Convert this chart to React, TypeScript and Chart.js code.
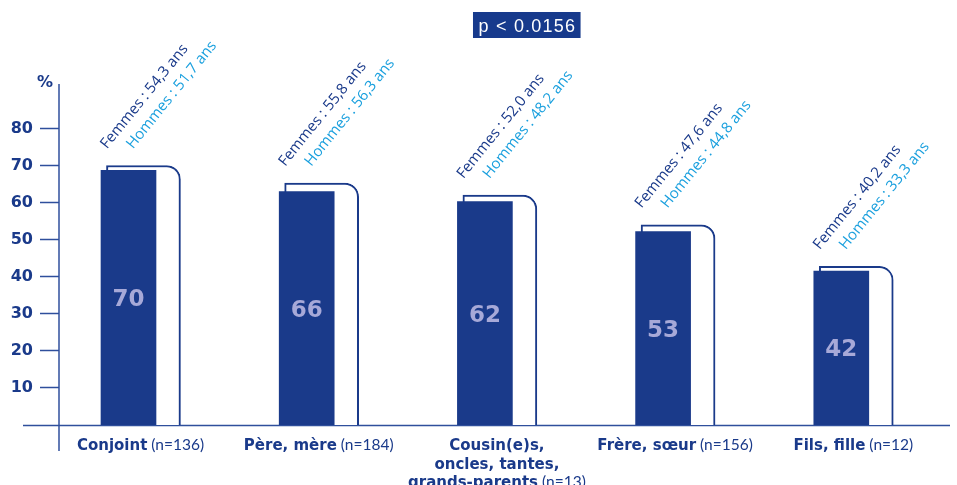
import React, { useEffect, useRef } from "react";
import { Chart, registerables } from "chart.js";

Chart.register(...registerables);

// ---- Data ----
const categoryLines: string[][] = [
  ["Conjoint"],
  ["Père, mère"],
  ["Cousin(e)s,", "oncles, tantes,", "grands-parents"],
  ["Frère, sœur"],
  ["Fils, fille"],
];
const sampleSizes = ["(n=136)", "(n=184)", "(n=13)", "(n=156)", "(n=12)"];
const percentLabels = [70, 66, 62, 53, 42];
const filledValues = [68.7, 63, 60.3, 52.2, 41.5];
const outlineValues = [70, 65.3, 62, 54, 42.8];
const femmesAges = ["54,3", "55,8", "52,0", "47,6", "40,2"];
const hommesAges = ["51,7", "56,3", "48,2", "44,8", "33,3"];
const yTickValues = [10, 20, 30, 40, 50, 60, 70, 80];
const pValueText = "p < 0.0156";

// ---- Styles ----
const NAVY = "#1a3a8a";
const AXIS = "#2f4f9c";
const LIGHT_BLUE = "#1ba0de";
const LAVENDER = "#a7a9d8";
const BOLD_FAMILY = "'DejaVu Sans', sans-serif";
const LIGHT_FAMILY = "Lato, 'Open Sans', sans-serif";
const ROT_FAMILY = "'Open Sans', Lato, sans-serif";

const decorPlugin = {
  id: "decor",
  beforeDatasetsDraw(chart: any) {
    const ctx = chart.ctx as CanvasRenderingContext2D;
    const { left, right, top, bottom } = chart.chartArea;
    ctx.save();
    ctx.strokeStyle = AXIS;
    ctx.lineWidth = 1.5;
    ctx.beginPath();
    ctx.moveTo(left, top);
    ctx.lineTo(left, bottom + 26);
    ctx.stroke();
    ctx.beginPath();
    ctx.moveTo(left - 36, bottom + 0.5);
    ctx.lineTo(right, bottom + 0.5);
    ctx.stroke();
    ctx.restore();
  },
  afterDatasetsDraw(chart: any) {
    const ctx = chart.ctx as CanvasRenderingContext2D;
    const { left, right, top, bottom } = chart.chartArea;
    const xs = chart.scales.x;
    const filledMeta = chart.getDatasetMeta(0);
    const outlineMeta = chart.getDatasetMeta(1);
    ctx.save();

    // "%" unit label
    ctx.fillStyle = NAVY;
    ctx.font = `bold 16px ${BOLD_FAMILY}`;
    ctx.textAlign = "center";
    ctx.textBaseline = "alphabetic";
    ctx.fillText("%", left - 14, top + 3);

    // values inside bars
    ctx.font = `bold 23px ${BOLD_FAMILY}`;
    ctx.fillStyle = LAVENDER;
    filledMeta.data.forEach((el: any, i: number) => {
      const cy = (el.y + el.base) / 2;
      ctx.fillText(String(percentLabels[i]), el.x, cy + 8.4);
    });

    // rotated age annotations
    const deg = 51;
    const angle = (-deg * Math.PI) / 180;
    ctx.textAlign = "left";
    ctx.font = `15px ${ROT_FAMILY}`;
    filledMeta.data.forEach((el: any, i: number) => {
      const outlineTop = outlineMeta.data[i].y;
      const x0 = el.x - el.width / 2 + 6;
      const y0 = outlineTop - 16;
      ctx.save();
      ctx.translate(x0, y0);
      ctx.rotate(angle);
      ctx.fillStyle = NAVY;
      ctx.fillText(`Femmes : ${femmesAges[i]} ans`, 0, 0);
      ctx.fillStyle = LIGHT_BLUE;
      ctx.fillText(`Hommes : ${hommesAges[i]} ans`, 26 * Math.cos(-angle), 26 * Math.sin(-angle));
      ctx.restore();
    });

    // category labels
    ctx.fillStyle = NAVY;
    const boldFont = `bold 15px ${BOLD_FAMILY}`;
    const lightFont = `15.5px ${LIGHT_FAMILY}`;
    categoryLines.forEach((lines, i) => {
      const cx = xs.getPixelForValue(i) + 12;
      lines.forEach((line, j) => {
        const y = bottom + 25 + j * 18.5;
        const suffix = j === lines.length - 1 ? " " + sampleSizes[i] : "";
        ctx.font = boldFont;
        const wb = ctx.measureText(line).width;
        let wn = 0;
        if (suffix) {
          ctx.font = lightFont;
          wn = ctx.measureText(suffix).width;
        }
        const x0 = cx - (wb + wn) / 2;
        ctx.font = boldFont;
        ctx.fillText(line, x0, y);
        if (suffix) {
          ctx.font = lightFont;
          ctx.fillText(suffix, x0 + wb, y);
        }
      });
    });

    // p-value box
    const px = left + (right - left) * 0.525;
    ctx.font = `18px 'Liberation Sans', Arial, sans-serif`;
    (ctx as any).letterSpacing = "1.2px";
    const tw = ctx.measureText(pValueText).width;
    const bw = Math.max(tw + 10, 105);
    ctx.fillStyle = "#173a8c";
    ctx.fillRect(px - bw / 2, 12, bw, 26);
    ctx.fillStyle = "#ffffff";
    ctx.textAlign = "left";
    ctx.fillText(pValueText, px - tw / 2 + 0.6, 32);
    (ctx as any).letterSpacing = "0px";

    ctx.restore();
  },
};

export default function App() {
  const ref = useRef<HTMLCanvasElement>(null);

  useEffect(() => {
    const chart = new Chart(ref.current as HTMLCanvasElement, {
      type: "bar",
      data: {
        datasets: [
          {
            label: "filled",
            data: filledValues.map((v, i) => ({ x: i, y: v })),
            xAxisID: "x",
            yAxisID: "y",
            grouped: false,
            backgroundColor: NAVY,
            borderWidth: 0,
            barThickness: 55,
          } as any,
          {
            label: "outline",
            data: outlineValues.map((v, i) => ({ x: i, y: v })),
            xAxisID: "x2",
            yAxisID: "y",
            grouped: false,
            backgroundColor: "#ffffff",
            borderColor: NAVY,
            borderWidth: 2,
            borderSkipped: "bottom",
            borderRadius: { topLeft: 0, topRight: 14, bottomLeft: 0, bottomRight: 0 },
            barThickness: 74,
          } as any,
        ],
      },
      options: {
        responsive: false,
        devicePixelRatio: 1,
        animation: false,
        layout: { padding: { top: 84, right: 7, bottom: 60, left: 0 } },
        plugins: { legend: { display: false }, tooltip: { enabled: false } },
        scales: {
          x: {
            type: "linear",
            axis: "x",
            position: "bottom",
            display: false,
            min: -0.39,
            max: 4.61,
            offset: false,
          } as any,
          x2: {
            type: "linear",
            axis: "x",
            position: "bottom",
            display: false,
            min: -0.474,
            max: 4.526,
            offset: false,
          } as any,
          y: {
            type: "linear",
            position: "left",
            min: 0,
            max: 92,
            afterFit: (s: any) => {
              s.width = 59;
            },
            afterBuildTicks: (s: any) => {
              s.ticks = yTickValues.map((v) => ({ value: v }));
            },
            ticks: {
              color: NAVY,
              padding: 7,
              font: { family: BOLD_FAMILY, weight: "bold", size: 16 },
            },
            grid: {
              drawOnChartArea: false,
              drawTicks: true,
              tickLength: 19,
              tickColor: AXIS,
              tickWidth: 1.5,
            },
            border: { display: false },
          } as any,
        },
      },
      plugins: [decorPlugin],
    });
    return () => chart.destroy();
  }, []);

  return (
    <div style={{ position: "absolute", left: 0, top: 0, width: 957, height: 485, background: "#ffffff" }}>
      <canvas ref={ref} width={957} height={485} style={{ display: "block", width: 957, height: 485 }} />
    </div>
  );
}
